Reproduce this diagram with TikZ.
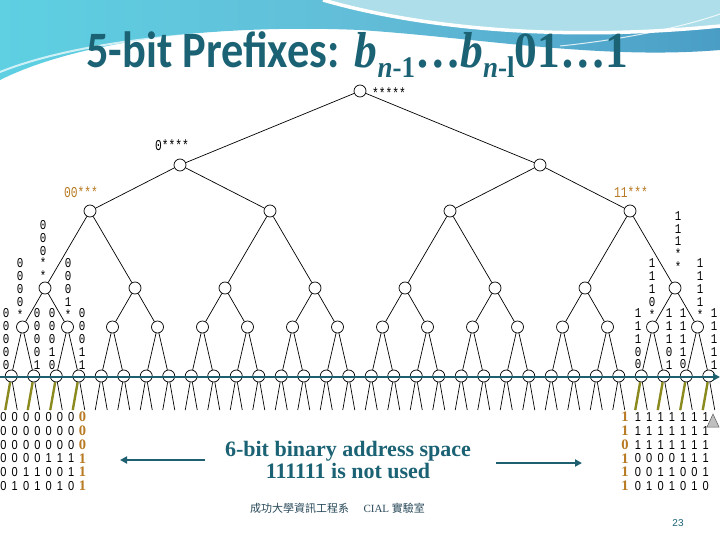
\documentclass[tikz,border=0pt]{standalone}
\usepackage{fontspec}
\setmainfont{Liberation Serif}
\setsansfont{Liberation Sans}
\newfontfamily\titlefont[FakeStretch=0.87]{Carlito}
\newfontfamily\mathfont[FakeStretch=0.9]{Liberation Serif}
\newfontfamily\treefont[FakeStretch=0.75]{Liberation Mono}
\newfontfamily\colfont[FakeStretch=0.8]{Liberation Mono}
\newfontfamily\tabfont[FakeStretch=0.85]{Liberation Sans}
\newfontfamily\cjkfont{Noto Sans CJK TC}
\usetikzlibrary{arrows.meta}
\definecolor{teal1}{HTML}{1B6274}
\definecolor{orng}{HTML}{B87A22}
\definecolor{olive1}{HTML}{8A8A1E}
\definecolor{lineTeal}{HTML}{1E5F70}
\definecolor{waveA}{HTML}{62BDD8}
\definecolor{waveB}{HTML}{4A9EC6}
\definecolor{waveC}{HTML}{ADDEEA}
\definecolor{waveD}{HTML}{5ED0E2}
\definecolor{footc}{HTML}{2A4A5A}
\tikzset{
  tn/.style={circle,draw,fill=white,minimum size=12pt,inner sep=0pt,line width=0.7pt},
  te/.style={line width=0.7pt},
  lab/.style={font=\colfont\fontsize{13.5}{12.8}\selectfont, align=center, inner sep=0pt},
  toplab/.style={font=\treefont\fontsize{15}{15}\selectfont, inner sep=0pt, anchor=west},
  tabd/.style={font=\tabfont\fontsize{13}{14}\selectfont, inner sep=0pt},
  tabo/.style={font=\bfseries\fontsize{14.5}{15}\selectfont, text=orng, inner sep=0pt},
  arr/.style={draw=lineTeal, line width=2pt, -{Triangle[length=7pt,width=7pt]}}
}
\begin{document}
\begin{tikzpicture}[x=1pt,y=-1pt]
\useasboundingbox (0,0) rectangle (720,540);
\fill[white] (0,0) rectangle (720,540);
% background wave
\shade[left color=waveD, right color=waveB, middle color=waveA] (0,0) -- (720,0) -- (720,50) .. controls (600,60) and (480,38) .. (360,30) .. controls (220,24) and (80,40) .. (0,80) -- cycle;
\fill[waveC] (323,0) .. controls (420,28) and (560,42) .. (720,26) -- (720,0) -- cycle;
\draw[white, line width=3.5pt] (323,0) .. controls (420,28) and (560,42) .. (720,26);
\draw[white, line width=1pt, opacity=0.8] (560,46) .. controls (620,40) and (680,28) .. (720,14);
\draw[white, line width=2pt, opacity=0.7] (0,72) .. controls (80,40) and (220,26) .. (360,32);
% title
\node[anchor=base west, inner sep=0pt, text=teal1] (title) at (86,68)
  {\titlefont\bfseries\fontsize{51}{51}\selectfont 5-bit Prefixes:\hspace{0.3em}\mathfont\bfseries\fontsize{50.5}{50.5}\selectfont\textit{b}\raisebox{-10pt}{\fontsize{30}{30}\selectfont\textit{n}-1}…\textit{b}\raisebox{-10pt}{\fontsize{30}{30}\selectfont\textit{n}-l}01…1};
% tree nodes
\node[tn] (r) at (360,91) {};
\foreach \k in {0,1} \node[tn] (a\k) at ({180+360*\k},165) {};
\foreach \k in {0,...,3} \node[tn] (b\k) at ({90+180*\k},211) {};
\foreach \k in {0,...,7} \node[tn] (c\k) at ({45+90*\k},288) {};
\foreach \k in {0,...,15} \node[tn] (d\k) at ({22.5+45*\k},327) {};
\foreach \k in {0,...,31} \node[tn] (e\k) at ({11.25+22.5*\k},376) {};
% tree edges
\foreach \k in {0,1} \draw[te] (r) -- (a\k);
\foreach \k in {0,...,3} {\pgfmathtruncatemacro\p{div(\k,2)} \draw[te] (a\p) -- (b\k);}
\foreach \k in {0,...,7} {\pgfmathtruncatemacro\p{div(\k,2)} \draw[te] (b\p) -- (c\k);}
\foreach \k in {0,...,15} {\pgfmathtruncatemacro\p{div(\k,2)} \draw[te] (c\p) -- (d\k);}
\foreach \k in {0,...,31} {\pgfmathtruncatemacro\p{div(\k,2)} \draw[te] (d\p) -- (e\k);}
% leaf children stubs
\foreach \k in {0,...,31} {
  \coordinate (fl\k) at ({11.25+22.5*\k-6},410);
  \coordinate (fr\k) at ({11.25+22.5*\k+6},410);
  \draw[te] (e\k) -- (fl\k);
  \draw[te] (e\k) -- (fr\k);
}
\foreach \k in {0,1,2,3,28,29,30,31} \draw[olive1, line width=2.4pt] (e\k) -- (fl\k);
% teal axis line
\coordinate (hl) at (0,377);
\coordinate (hr) at (720,377);
\draw[arr, line width=2.2pt] (hl) -- (hr);
% top labels
\node[toplab] (l0) at (372,93) {*****};
\node[toplab] (l1) at (155,145) {0****};
\node[toplab, text=orng] (l2) at (64,192) {00***};
\node[toplab, text=orng] (l3) at (614,192) {11***};
% left column labels
\node[lab] (cl1) at (43,250.5) {0\\0\\0\\*\\*};
\node[lab] (cl2) at (20,289) {0\\0\\0\\0\\*};
\node[lab] (cl3) at (68,289) {0\\0\\0\\1\\*};
\node[lab] (cl4) at (6,339) {0\\0\\0\\0\\0};
\node[lab] (cl5) at (37,339) {0\\0\\0\\0\\1};
\node[lab] (cl6) at (52,339) {0\\0\\0\\1\\0};
\node[lab] (cl7) at (82,339) {0\\0\\0\\1\\1};
% right column labels
\node[lab] (cr1) at (678,241.5) {1\\1\\1\\*\\*};
\node[lab] (cr2) at (652,289) {1\\1\\1\\0\\*};
\node[lab] (cr3) at (700,289) {1\\1\\1\\1\\*};
\node[lab] (cr4) at (638,339) {1\\1\\1\\0\\0};
\node[lab] (cr5) at (669,339) {1\\1\\1\\0\\1};
\node[lab] (cr6) at (683,339) {1\\1\\1\\1\\0};
\node[lab] (cr7) at (714,339) {1\\1\\1\\1\\1};
% left table
\foreach \r [count=\i] in {{0,0,0,0,0,0,0},{0,0,0,0,0,0,0},{0,0,0,0,0,0,0},{0,0,0,0,1,1,1},{0,0,1,1,0,0,1},{0,1,0,1,0,1,0}} {
  \foreach \d [count=\j] in \r {
    \node[tabd] (L\i-\j) at ({3.5+11.3*(\j-1)},{417+13.8*(\i-1)}) {\d};
  }
}
\foreach \d [count=\i] in {0,0,0,1,1,1}
  \node[tabo] (LO\i) at (82.5,{417+13.8*(\i-1)}) {\d};
% right table
\foreach \r [count=\i] in {{1,1,1,1,1,1,1},{1,1,1,1,1,1,1},{1,1,1,1,1,1,1},{0,0,0,0,1,1,1},{0,0,1,1,0,0,1},{0,1,0,1,0,1,0}} {
  \foreach \d [count=\j] in \r {
    \node[tabd] (R\i-\j) at ({638+11.3*(\j-1)},{417+13.8*(\i-1)}) {\d};
  }
}
\foreach \d [count=\i] in {1,1,0,1,1,1}
  \node[tabo] (RO\i) at (625,{417+13.8*(\i-1)}) {\d};
\filldraw[fill=gray!50, draw=gray!70!black, line width=0.5pt] (707,427) -- (719,427) -- (713,414) -- cycle;
% center text and arrows
\node[font=\bfseries\fontsize{22}{22.5}\selectfont, text=teal1, align=center, inner sep=0pt] (txt) at (348,460) {6-bit binary address space\\111111 is not used};
\coordinate (las) at (205,460);
\coordinate (lae) at (120,460);
\coordinate (ras) at (496,463);
\coordinate (rae) at (582,463);
\draw[arr] (las) -- (lae);
\draw[arr] (ras) -- (rae);
% footer
\node[anchor=west, inner sep=0pt, text=footc, font=\fontsize{11}{12}\selectfont] (ft) at (250,508) {{\cjkfont 成功大學資訊工程系}\hspace{1.3em}CIAL {\cjkfont 實驗室}};
\node[font=\sffamily\fontsize{10}{12}\selectfont, text=teal1, inner sep=0pt] (pg) at (678,523) {23};
\end{tikzpicture}
\end{document}
